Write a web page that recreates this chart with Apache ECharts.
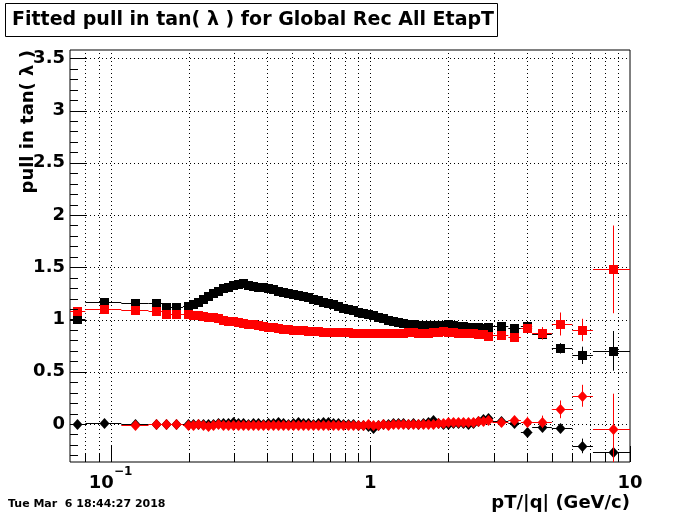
<!DOCTYPE html>
<html><head><meta charset="utf-8">
<script src="https://cdn.jsdelivr.net/npm/echarts@6/dist/echarts.min.js"></script>
<style>html,body{margin:0;padding:0;background:#fff}#c{width:700px;height:514px}</style>
</head><body><div id="c"></div>
<script>
// ---------- data ----------
// bin centres (pT/|q|, GeV/c)
const xCenter = [0.0742,0.094,0.124,0.150,0.164,0.179,0.199,
 0.20740,0.21681,0.22665,0.23693,0.24768,0.25891,0.27066,0.28294,0.29577,0.30918,
 0.32321,0.33787,0.35320,0.36921,0.38596,0.40347,0.42177,0.44090,0.46089,0.48180,
 0.50365,0.52650,0.55038,0.57534,0.60144,0.62872,0.65724,0.68705,0.71822,0.75080,
 0.78485,0.82045,0.85766,0.89656,0.93723,0.97980,1.0243,1.0707,1.1193,1.1700,
 1.2231,1.2786,1.3366,1.3972,1.4606,1.5268,1.5961,1.6685,1.7442,1.8233,
 1.9060,1.9925,2.0828,2.1773,2.2761,2.3793,2.4872,2.6001,2.7180,2.8413,
 3.2,3.58,4.01,4.59,5.38,6.53,8.62];
// bin edges (N+1)
const xEdges = [0.0698,0.08,0.11,0.14,0.16,0.17,0.19,
 0.2028,0.2121,0.2217,0.2317,0.2422,0.2532,0.2647,0.2767,0.2893,0.3024,
 0.3161,0.3305,0.3455,0.3611,0.3775,0.3946,0.4125,0.4312,0.4508,0.4712,
 0.4926,0.5150,0.5383,0.5627,0.5883,0.6149,0.6428,0.6720,0.7025,0.7343,
 0.7676,0.8025,0.8388,0.8769,0.9167,0.9583,1.0018,1.0472,1.0947,1.1443,
 1.1963,1.2506,1.3073,1.3666,1.4286,1.4933,1.5611,1.6319,1.7059,1.7833,
 1.8642,1.9488,2.0372,2.1296,2.2262,2.3271,2.4327,2.5431,2.6585,2.7790,
 2.95,3.4,3.8,4.2,5.0,6.0,7.2,10];
const blackSigma = [1.005,1.17,1.155,1.155,1.12,1.12,1.13,
 1.145,1.165,1.20,1.225,1.25,1.275,1.30,1.315,1.33,1.34,
 1.345,1.335,1.325,1.315,1.31,1.30,1.29,1.275,1.265,1.25,
 1.24,1.235,1.228,1.215,1.20,1.185,1.17,1.16,1.15,1.13,
 1.11,1.10,1.09,1.075,1.06,1.048,1.04,1.025,1.01,1.00,
 0.99,0.98,0.97,0.96,0.955,0.95,0.947,0.945,0.944,0.944,
 0.95,0.955,0.945,0.938,0.935,0.93,0.928,0.925,0.92,0.93,
 0.94,0.916,0.94,0.86,0.724,0.657,0.70];
const redSigma = [1.08,1.10,1.09,1.08,1.05,1.05,1.05,
 1.045,1.04,1.035,1.028,1.02,1.01,1.00,0.99,0.983,0.976,
 0.968,0.96,0.953,0.946,0.94,0.932,0.925,0.92,0.913,0.908,
 0.904,0.90,0.896,0.893,0.89,0.886,0.882,0.882,0.883,0.883,
 0.878,0.876,0.875,0.874,0.873,0.872,0.872,0.874,0.871,0.87,
 0.875,0.873,0.872,0.876,0.88,0.875,0.873,0.874,0.878,0.885,
 0.89,0.885,0.876,0.87,0.872,0.875,0.868,0.862,0.858,0.845,
 0.85,0.835,0.916,0.868,0.957,0.90,1.48];
const blackMean = [0.0,0.012,-0.005,-0.005,-0.005,-0.005,-0.005,
 0.0,-0.005,0.0,-0.005,0.0,0.005,0.005,0.01,0.015,0.01,
 0.005,0.0,0.005,0.005,0.0,0.005,0.01,0.015,0.005,0.0,
 0.005,0.015,0.01,0.005,0.0,0.01,0.015,0.02,0.01,0.005,
 0.0,0.0,-0.005,-0.01,-0.01,-0.02,-0.04,-0.01,0.0,0.0,
 0.005,0.01,0.005,0.0,0.005,0.0,0.005,0.02,0.035,0.01,
 0.0,0.0,0.005,0.01,0.005,0.0,0.01,0.03,0.05,0.055,
 0.03,0.007,-0.08,-0.025,-0.04,-0.21,-0.27];
const redMean = [null,null,-0.01,-0.003,-0.003,-0.003,-0.01,
 -0.01,-0.005,-0.012,-0.015,-0.01,-0.005,-0.01,-0.012,-0.01,-0.008,
 -0.01,-0.012,-0.01,-0.01,-0.012,-0.008,-0.01,-0.012,-0.01,-0.008,
 -0.01,-0.01,-0.012,-0.01,-0.008,-0.01,-0.01,-0.012,-0.01,-0.01,
 -0.008,-0.01,-0.006,-0.01,-0.008,-0.005,-0.008,-0.006,-0.004,-0.006,
 -0.004,-0.002,-0.004,0.0,-0.002,0.0,0.002,0.0,0.004,0.008,
 0.012,0.015,0.02,0.018,0.015,0.02,0.022,0.025,0.03,0.04,
 0.02,0.04,0.02,0.02,0.14,0.27,-0.05];
// statistical errors
const errDense = [0.006,0.006,0.006,0.006,0.006,0.006,0.006,0.006,0.006,0.006,
 0.006,0.006,0.006,0.006,0.006,0.006,0.006,0.006,0.006,0.006,
 0.007,0.007,0.007,0.007,0.007,0.007,0.007,0.007,0.007,0.007,
 0.008,0.008,0.008,0.008,0.008,0.008,0.008,0.008,0.008,0.008,
 0.01,0.01,0.01,0.01,0.01,0.01,0.01,0.01,0.01,0.01,
 0.012,0.012,0.012,0.012,0.012,0.015,0.015,0.015,0.015,0.015];
const errBlackSigma = [0.015,0.012,0.012,0.012,0.01,0.01,0.01, ...errDense, 0.02,0.025,0.03,0.03,0.05,0.083,0.19];
const errRedSigma   = [0.015,0.012,0.012,0.012,0.01,0.01,0.01, ...errDense, 0.02,0.03,0.03,0.06,0.11,0.107,0.42];
const errBlackMean  = [0.012,0.01,0.01,0.01,0.01,0.01,0.01, ...errDense, 0.02,0.02,0.03,0.03,0.04,0.07,0.05];
const errRedMean    = [null,null,0.01,0.01,0.01,0.01,0.01, ...errDense, 0.02,0.03,0.05,0.06,0.085,0.105,0.34];
// axes
const xLabelValues = [0.1, 1, 10];
const xGridValues = [0.08,0.09,0.1,0.2,0.3,0.4,0.5,0.6,0.7,0.8,0.9,1,2,3,4,5,6,7,8,9];
const xMinorTicks = [0.08,0.09,0.2,0.3,0.4,0.5,0.6,0.7,0.8,0.9,2,3,4,5,6,7,8,9];
const yLabelValues = [0,0.5,1,1.5,2,2.5,3,3.5];
const yMinorTicks = [-0.3,-0.2,-0.1,0.1,0.2,0.3,0.4,0.6,0.7,0.8,0.9,1.1,1.2,1.3,1.4,1.6,1.7,1.8,1.9,2.1,2.2,2.3,2.4,2.6,2.7,2.8,2.9,3.1,3.2,3.3,3.4];

// ---------- drawing ----------
const FONT = 'DejaVu Sans';
const chart = echarts.init(document.getElementById('c'), null, {renderer:'canvas'});

function errSeries(vals, errs, color, shape, z) {
  const data = [];
  for (let i = 0; i < xCenter.length; i++) {
    if (vals[i] == null) continue;
    data.push([xCenter[i], vals[i], xEdges[i], xEdges[i+1], errs[i]]);
  }
  return {
    type: 'custom', silent: true, animation: false, z: z, data: data,
    encode: {x: 0, y: 1},
    renderItem: function (params, api) {
      const cs = params.coordSys;
      const x = api.value(0), y = api.value(1), lo = api.value(2), hi = api.value(3), e = api.value(4);
      const p = api.coord([x, y]);
      const pl = api.coord([lo, y]), ph = api.coord([hi, y]);
      const pt = api.coord([x, y + e]), pb = api.coord([x, y - e]);
      const cy = v => Math.max(cs.y, Math.min(cs.y + cs.height, v));
      const cx = v => Math.max(cs.x, Math.min(cs.x + cs.width, v));
      const px = Math.round(p[0]) + 0.5, py = Math.round(p[1]) + 0.5;
      const ch = [
        {type: 'line', shape: {x1: cx(pl[0]), y1: py, x2: cx(ph[0]), y2: py}, style: {stroke: color, lineWidth: 1}},
        {type: 'line', shape: {x1: px, y1: cy(pt[1]), x2: px, y2: cy(pb[1])}, style: {stroke: color, lineWidth: 1}}
      ];
      if (shape === 'square') {
        ch.push({type: 'rect', shape: {x: px - 4.5, y: py - 4.5, width: 9, height: 9}, style: {fill: color}});
      } else {
        ch.push({type: 'polygon', shape: {points: [[px, py - 5.5], [px + 5, py], [px, py + 5.5], [px - 5, py]]}, style: {fill: color}});
      }
      return {type: 'group', children: ch};
    }
  };
}

function lineSeries(values, dir, len, dashed, z) {
  return {
    type: 'custom', silent: true, animation: false, z: z,
    data: values.map(v => dir === 'x' ? [v, 0] : [1, v]),
    encode: {x: 0, y: 1},
    renderItem: function (params, api) {
      const cs = params.coordSys;
      const style = {stroke: '#000', lineWidth: 1};
      if (dashed) style.lineDash = [1, 3];
      if (dir === 'x') {
        const px = Math.round(api.coord([api.value(0), 0])[0]) + 0.5;
        const yb = cs.y + cs.height;
        const l = len == null ? cs.height : len;
        return {type: 'line', shape: {x1: px, y1: yb, x2: px, y2: yb - l}, style: style};
      } else {
        const py = Math.round(api.coord([1, api.value(1)])[1]) + 0.5;
        const l = len == null ? cs.width : len;
        return {type: 'line', shape: {x1: cs.x, y1: py, x2: cs.x + l, y2: py}, style: style};
      }
    }
  };
}

const option = {
  animation: false,
  backgroundColor: '#fff',
  grid: {left: 70, right: 70, top: 50, bottom: 52, show: true, borderColor: '#000', borderWidth: 1, backgroundColor: '#fff'},
  xAxis: {
    type: 'log', min: 0.0698, max: 10, logBase: 10,
    axisLine: {show: false}, axisTick: {show: false}, splitLine: {show: false}, minorTick: {show: false},
    axisLabel: {
      customValues: xLabelValues, margin: 4, color: '#000', fontFamily: FONT, fontWeight: 'bold', fontSize: 18,
      formatter: function (v) {
        if (Math.abs(v - 0.1) < 1e-9) return '{b|10}{s|\u22121}';
        if (Math.abs(v - 1) < 1e-9) return '{b|1}';
        return '{b|10}';
      },
      rich: {
        b: {fontFamily: FONT, fontWeight: 'bold', fontSize: 18, color: '#000', lineHeight: 26, verticalAlign: 'bottom'},
        s: {fontFamily: FONT, fontWeight: 'bold', fontSize: 12, color: '#000', lineHeight: 26, verticalAlign: 'top'}
      }
    }
  },
  yAxis: {
    type: 'value', min: -0.364, max: 3.58,
    axisLine: {show: false}, axisTick: {show: false}, splitLine: {show: false},
    axisLabel: {customValues: yLabelValues, margin: 5, color: '#000', fontFamily: FONT, fontWeight: 'bold', fontSize: 18,
      formatter: v => String(v)}
  },
  series: [
    lineSeries(xGridValues, 'x', null, true, 1),
    lineSeries(yLabelValues, 'y', null, true, 1),
    errSeries(blackSigma, errBlackSigma, '#000000', 'square', 5),
    errSeries(redSigma, errRedSigma, '#ff0000', 'square', 6),
    errSeries(blackMean, errBlackMean, '#000000', 'diamond', 7),
    errSeries(redMean, errRedMean, '#ff0000', 'diamond', 8),
    lineSeries(xLabelValues, 'x', 16, false, 10),
    lineSeries(xMinorTicks, 'x', 8, false, 10),
    lineSeries(yLabelValues, 'y', 16, false, 10),
    lineSeries(yMinorTicks, 'y', 8, false, 10)
  ],
  graphic: [
    {type: 'rect', shape: {x: 5.5, y: 3.5, width: 492, height: 33}, style: {fill: '#fff', stroke: '#000', lineWidth: 1}, z: 100},
    {type: 'text', x: 12, y: 20.5, z: 101, style: {text: 'Fitted pull in tan( \u03bb ) for Global Rec All EtapT', font: 'bold 19px "DejaVu Sans"', fill: '#000', textAlign: 'left', textVerticalAlign: 'middle'}},
    {type: 'text', x: 28, y: 50, rotation: Math.PI / 2, z: 101, style: {text: 'pull in tan( \u03bb )', font: 'bold 18px "DejaVu Sans"', fill: '#000', textAlign: 'right', textVerticalAlign: 'middle'}},
    {type: 'text', x: 630, y: 503, z: 101, style: {text: 'pT/|q| (GeV/c)', font: 'bold 18px "DejaVu Sans"', fill: '#000', textAlign: 'right', textVerticalAlign: 'middle'}},
    {type: 'text', x: 8, y: 504, z: 101, style: {text: 'Tue Mar  6 18:44:27 2018', font: 'bold 11px "DejaVu Sans"', fill: '#000', textAlign: 'left', textVerticalAlign: 'middle'}}
  ]
};
chart.setOption(option);
</script>
</body></html>
